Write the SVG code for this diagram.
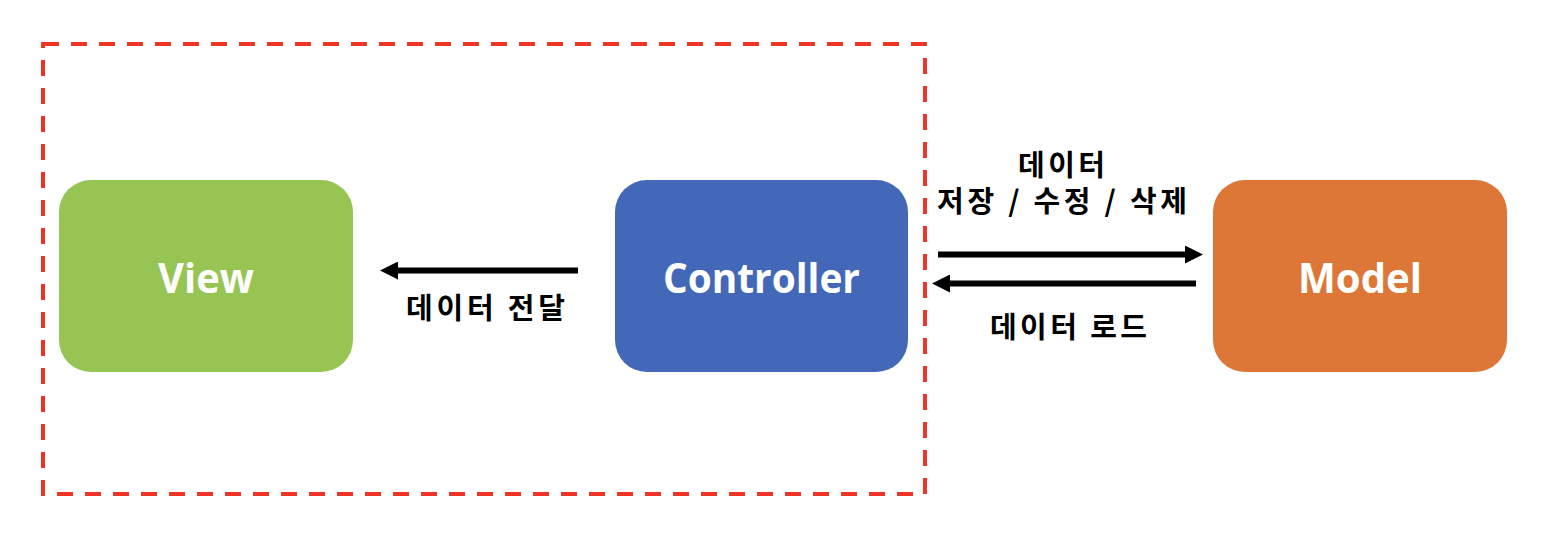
<svg xmlns="http://www.w3.org/2000/svg" width="1548" height="550" viewBox="0 0 1548 550">
<defs>
<style>
.node-label{font-family:"Open Sans","Noto Sans",sans-serif;font-weight:700;font-size:42px;fill:#ffffff;text-anchor:middle}
.kr{font-family:"Noto Sans CJK KR","Noto Sans",sans-serif;font-weight:700;font-size:29px;fill:#000000;text-anchor:middle}
.conn{stroke:#000000;stroke-width:6;fill:none}
</style>
<marker id="arrow" viewBox="0 0 18 18" refX="0" refY="9" markerWidth="18" markerHeight="18" markerUnits="userSpaceOnUse" orient="auto">
<path d="M0,0 L18,9 L0,18 Z" fill="#000000"/>
</marker>
</defs>
<rect width="1548" height="550" fill="#ffffff"/>
<g id="group-boundary">
<rect x="43" y="44" width="882" height="450" fill="none" stroke="#EE3424" stroke-width="4" stroke-dasharray="16 12"/>
</g>
<g id="node-view">
<rect x="59" y="180" width="294" height="192" rx="32" ry="32" fill="#96C553"/>
<text class="node-label" x="206" y="293" textLength="96" lengthAdjust="spacingAndGlyphs">View</text>
</g>
<g id="node-controller">
<rect x="615" y="180" width="293" height="192" rx="32" ry="32" fill="#4268B7"/>
<text class="node-label" x="761.5" y="293" textLength="197" lengthAdjust="spacingAndGlyphs">Controller</text>
</g>
<g id="node-model">
<rect x="1213" y="180" width="294" height="192" rx="32" ry="32" fill="#DC7737"/>
<text class="node-label" x="1360" y="293" textLength="124" lengthAdjust="spacingAndGlyphs">Model</text>
</g>
<g id="connectors">
<line class="conn" x1="578" y1="270.5" x2="398" y2="270.5" marker-end="url(#arrow)"/>
<line class="conn" x1="938" y1="254.5" x2="1185" y2="254.5" marker-end="url(#arrow)"/>
<line class="conn" x1="1196" y1="283.5" x2="950" y2="283.5" marker-end="url(#arrow)"/>
</g>
<g id="labels">
<text class="kr" x="485.5" y="319" textLength="159" lengthAdjust="spacing">데이터 전달</text>
<text class="kr"><tspan x="1061.5" y="176" textLength="87" lengthAdjust="spacing">데이터</tspan><tspan x="1062" y="212" textLength="250" lengthAdjust="spacing">저장 / 수정 / 삭제</tspan></text>
<text class="kr" x="1068.5" y="338" textLength="157" lengthAdjust="spacing">데이터 로드</text>
</g>
</svg>
